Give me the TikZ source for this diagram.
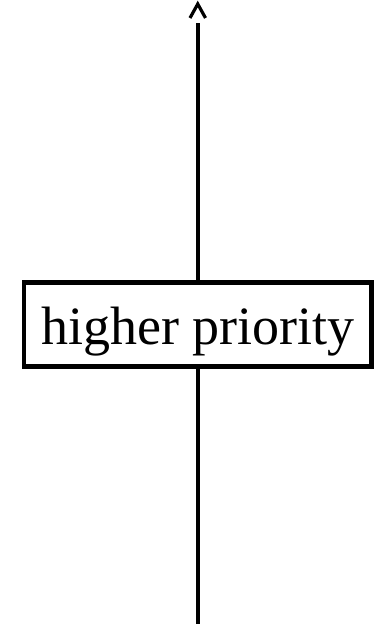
\documentclass[tikz,border=0pt]{standalone}
\usepackage{fontspec}
\setmainfont{Liberation Serif}
\begin{document}
\begin{tikzpicture}[x=1pt,y=1pt,
  line width=4.5pt,
  prio/.style={draw, rectangle, inner sep=0pt, minimum width=347.5pt, minimum height=84pt,
    font=\fontsize{54}{60}\selectfont, text height=41pt, text depth=0pt},
  barb/.style={line width=3.2pt, miter limit=10}]
\useasboundingbox (0,0) rectangle (374,624);
\node[prio] (box) at (197.75,299.5) {higher priority};
\coordinate (bot) at (197.75,0);
\coordinate (top) at (197.75,601);
\coordinate (apex) at (197.75,620);
\coordinate (armL) at (190,606);
\coordinate (armR) at (205.5,606);
\draw (bot) -- (box.south);
\draw (box.north) -- (top);
\draw[barb] (armL) -- (apex) -- (armR);
\end{tikzpicture}
\end{document}
